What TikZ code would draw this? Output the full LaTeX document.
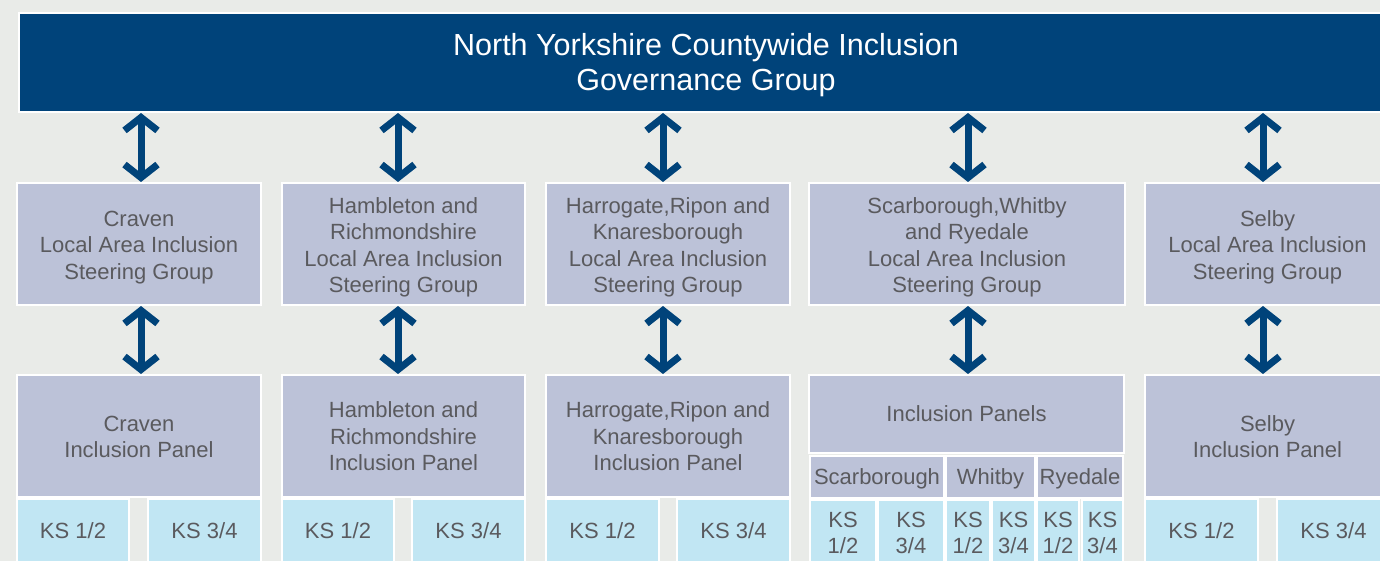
\documentclass[tikz,border=0pt]{standalone}
\usepackage{fontspec}
\setmainfont{Liberation Sans}
\usetikzlibrary{arrows.meta}
\definecolor{bg}{HTML}{E9EBE8}
\definecolor{navy}{HTML}{00437A}
\definecolor{lav}{HTML}{BCC2D8}
\definecolor{cyanbox}{HTML}{C1E6F3}
\definecolor{txt}{HTML}{5A5A5E}
\tikzset{
  box/.style={draw=white, line width=2pt, inner sep=0pt, align=center, text=txt,
    font=\fontsize{22}{26.5}\selectfont},
  lavbox/.style={box, fill=lav},
  ksbox/.style={box, fill=cyanbox},
  topbox/.style={draw=white, line width=2pt, fill=navy, text=white, align=center, inner sep=0pt,
    font=\fontsize{30.5}{34.5}\selectfont},
  link/.style={draw=navy, line width=7pt,
    {Straight Barb[length=13pt,width=33pt,sharp]}-{Straight Barb[length=13pt,width=33pt,sharp]}},
}
\newcommand\bx[8]{\node[#1, minimum width={(#4-#2)*1pt}, minimum height={(#5-#3)*1pt}] (#7) at ({(#2+#4)/2},{(#3+#5)/2}) {\raisebox{-#8pt}[\height][\depth]{\begin{tabular}{@{}c@{}}#6\end{tabular}}};}
\begin{document}
\begin{tikzpicture}[x=1pt,y=-1pt]
\path[use as bounding box] (0,0) rectangle (1380,561);
\clip (0,0) rectangle (1380,561);
\fill[bg] (0,0) rectangle (1380,561);

\bx{topbox}{19}{13}{1393}{112}{North Yorkshire Countywide Inclusion\\Governance Group}{top}{3.5}

\bx{lavbox}{17}{183}{261}{305}{Craven\\Local Area Inclusion\\Steering Group}{s1}{3.5}
\bx{lavbox}{282}{183}{525}{305}{Hambleton and\\Richmondshire\\Local Area Inclusion\\Steering Group}{s2}{3.5}
\bx{lavbox}{546}{183}{790}{305}{Harrogate,Ripon and\\Knaresborough\\Local Area Inclusion\\Steering Group}{s3}{3.5}
\bx{lavbox}{809}{183}{1125}{305}{Scarborough,Whitby\\and Ryedale\\Local Area Inclusion\\Steering Group}{s4}{3.5}
\bx{lavbox}{1145}{183}{1390}{305}{Selby\\Local Area Inclusion\\Steering Group}{s5}{3.5}

\bx{lavbox}{17}{375}{261}{497}{Craven\\Inclusion Panel}{p1}{3}
\bx{lavbox}{282}{375}{525}{497}{Hambleton and\\Richmondshire\\Inclusion Panel}{p2}{3}
\bx{lavbox}{546}{375}{790}{497}{Harrogate,Ripon and\\Knaresborough\\Inclusion Panel}{p3}{3}
\bx{lavbox}{809}{375}{1124}{453}{Inclusion Panels}{p4}{2.5}
\bx{lavbox}{810}{456}{944}{498}{Scarborough}{p4a}{2}
\bx{lavbox}{946}{456}{1035}{498}{Whitby}{p4b}{2}
\bx{lavbox}{1037}{456}{1123}{498}{Ryedale}{p4c}{2}
\bx{lavbox}{1145}{375}{1390}{497}{Selby\\Inclusion Panel}{p5}{3}

\bx{ksbox}{17}{499}{129}{565}{KS 1/2}{k1a}{1.5}
\bx{ksbox}{148}{499}{261}{565}{KS 3/4}{k1b}{1.5}
\bx{ksbox}{282}{499}{394}{565}{KS 1/2}{k2a}{1.5}
\bx{ksbox}{412}{499}{525}{565}{KS 3/4}{k2b}{1.5}
\bx{ksbox}{546}{499}{659}{565}{KS 1/2}{k3a}{1.5}
\bx{ksbox}{677}{499}{790}{565}{KS 3/4}{k3b}{1.5}
\bx{ksbox}{810}{500}{876}{566}{KS\\1/2}{k4a}{2}
\bx{ksbox}{878}{500}{944}{566}{KS\\3/4}{k4b}{2}
\bx{ksbox}{946}{500}{990}{566}{KS\\1/2}{k4c}{2}
\bx{ksbox}{992}{500}{1035}{566}{KS\\3/4}{k4d}{2}
\bx{ksbox}{1037}{500}{1079}{566}{KS\\1/2}{k4e}{2}
\bx{ksbox}{1082}{500}{1123}{566}{KS\\3/4}{k4f}{2}
\bx{ksbox}{1145}{499}{1258}{565}{KS 1/2}{k5a}{1.5}
\bx{ksbox}{1277}{499}{1390}{565}{KS 3/4}{k5b}{1.5}

\coordinate (a1) at (141,0);
\coordinate (a2) at (398,0);
\coordinate (a3) at (663,0);
\coordinate (a4) at (968,0);
\coordinate (a5) at (1263,0);
\foreach \i in {1,...,5}{
  \draw[link] (top.south -| a\i) -- (s\i.north -| a\i);
  \draw[link] (s\i.south -| a\i) -- (p\i.north -| a\i);
}
\end{tikzpicture}
\end{document}
